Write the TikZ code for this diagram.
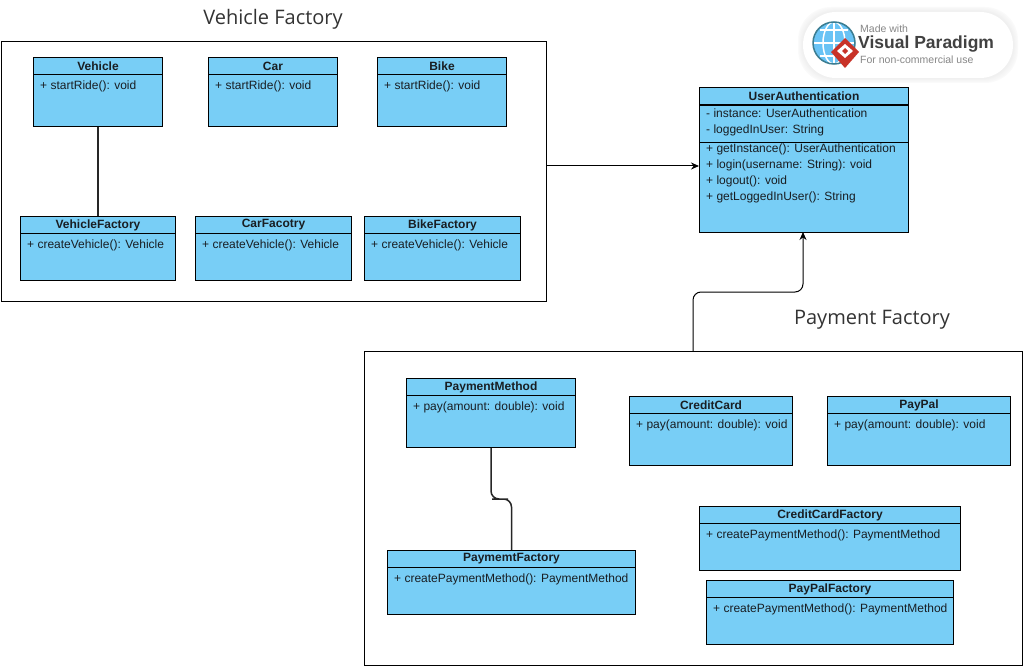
\documentclass[tikz,border=0pt]{standalone}
\usepackage{fontspec}
\setmainfont{Liberation Sans}
\newfontfamily\labelfont{Open Sans}
\usetikzlibrary{arrows.meta, positioning}
\definecolor{umlblue}{RGB}{120,206,246}
\definecolor{umltext}{RGB}{25,30,35}
\definecolor{badgegray}{RGB}{135,135,135}
\definecolor{badgedark}{RGB}{65,65,65}
\definecolor{badgered}{RGB}{200,50,40}
\definecolor{globeblue}{RGB}{105,195,245}
\definecolor{globeedge}{RGB}{60,125,145}
\tikzset{
    umlbody/.style={shape=rectangle, fill=umlblue, draw=black, line width=1pt, inner sep=0pt, anchor=north west},
    umlhead/.style={umlbody, anchor=north, minimum height=17pt, font=\fontsize{12}{14}\selectfont\bfseries, text=umltext},
    umlmember/.style={anchor=north west, inner sep=0pt, align=left, text=umltext, font=\fontsize{12}{16}\selectfont},
    framebox/.style={shape=rectangle, draw=black, line width=1pt, inner sep=0pt, anchor=north west},
    framelabel/.style={font=\labelfont\fontsize{20}{24}\selectfont, text=black!80},
    connector/.style={draw=black!85, line width=1.5pt},
    assoc/.style={draw=black, line width=1pt, -{Stealth[length=8pt, width=7pt]}, rounded corners=8pt}
}
\begin{document}
\begin{tikzpicture}[x=1pt, y=-1pt]
    \useasboundingbox (0, 0) rectangle (1023, 666);
    % Frames
    \node[framebox, minimum width=545pt, minimum height=260pt] (vehicleframe) at (0.5, 41) {};
    \node[framebox, minimum width=658pt, minimum height=314pt] (paymentframe) at (364, 351) {};
    \node[framelabel] (vehiclelabel) at (273, 19) {Vehicle Factory};
    \node[framelabel] (paymentlabel) at (872, 320) {Payment Factory};
    % Classes
    \foreach \name/\x/\y/\w/\h/\ctitle/\member in {
        vehicle/33/57/129/69/Vehicle/{+ startRide(): void},
        car/208/57/129/69/Car/{+ startRide(): void},
        bike/377/57/129/69/Bike/{+ startRide(): void},
        vehiclefactory/20/216/155/64/VehicleFactory/{+ createVehicle(): Vehicle},
        carfactory/195/216/156/64/CarFacotry/{+ createVehicle(): Vehicle},
        bikefactory/364/216/156/64/BikeFactory/{+ createVehicle(): Vehicle},
        paymentmethod/406/378/169/69/PaymentMethod/{+ pay(amount: double): void},
        creditcard/629/396/163/69/CreditCard/{+ pay(amount: double): void},
        paypal/827/396/183/69/PayPal/{+ pay(amount: double): void},
        creditfactory/699/506/261/64/CreditCardFactory/{+ createPaymentMethod(): PaymentMethod},
        paypalfactory/706/580/247/64/PayPalFactory/{+ createPaymentMethod(): PaymentMethod},
        paymentfactory/387/550/248/64/PaymemtFactory/{+ createPaymentMethod(): PaymentMethod}} {
        \node[umlbody, minimum width=\w pt, minimum height=\h pt] (\name) at (\x, \y) {};
        \node[umlhead, minimum width=\w pt] (\name head) at (\name.north) {\ctitle};
        \node[umlmember] (\name text) at ([xshift=7pt, yshift=-6pt]\name head.south west) {\member};
    }
    % User authentication
    \node[umlbody, minimum width=209pt, minimum height=145pt] (userauth) at (699, 87) {};
    \node[umlhead, minimum width=209pt] (userauth head) at (userauth.north) {UserAuthentication};
    \node[umlbody, minimum width=209pt, minimum height=37pt] (userauth attrs) at (userauth head.south west) {};
    \node[umlmember] (userauth attrtext) at ([xshift=7pt, yshift=-4pt]userauth attrs.north west) {- instance: UserAuthentication\\- loggedInUser: String};
    \node[umlmember] (userauth text) at ([xshift=7pt, yshift=-1pt]userauth attrs.south west) {+ getInstance(): UserAuthentication\\+ login(username: String): void\\+ logout(): void\\+ getLoggedInUser(): String};
    % Connectors
    \coordinate (userauthin) at (699, 166);
    \coordinate (userauthup) at (803, 232);
    \coordinate (paymentout) at (693, 351);
    \coordinate (paymentbend) at (748, 292);
    \coordinate (methodbend) at (500, 499);
    \draw[connector] (vehicle) -- (vehiclefactory);
    \draw[connector, rounded corners=8pt] (paymentmethod.south) |- (methodbend) -| (paymentfactory.north);
    \draw[assoc] (vehicleframe.east |- userauthin) -- (userauthin);
    \draw[assoc] (paymentout) |- (paymentbend) -| (userauthup);
    % Badge
    \foreach \grow/\shade in {5/2, 4/3, 3/4, 2/5, 1/6} {
        \fill[black!\shade, rounded corners=33pt] (803-\grow, 12-\grow) rectangle (1013+\grow, 78+\grow);
    }
    \fill[white, rounded corners=33pt] (803, 12) rectangle (1013, 78);
    \fill[globeblue] (834, 43) circle (21);
    \draw[white, line width=1.5pt] (813, 43) -- (855, 43) (820, 30) -- (848, 30) (820, 56) -- (848, 56) (834, 22) -- (834, 64);
    \draw[white, line width=1.5pt] (834, 43) ellipse (11 and 21);
    \draw[globeedge, line width=1.5pt] (834, 43) circle (21);
    \fill[badgered] (845, 38) -- (859, 52) -- (845, 68) -- (831, 52) -- cycle;
    \fill[white] (845, 44) -- (853, 51) -- (845, 58) -- (837, 51) -- cycle;
    \fill[badgered] (845, 48) -- (848, 51) -- (845, 54) -- (842, 51) -- cycle;
    \node[anchor=west, inner sep=0pt, text=badgegray, font=\fontsize{10.5}{12}\selectfont] (badgemade) at (860, 29) {Made with};
    \node[anchor=west, inner sep=0pt, text=badgedark, font=\fontsize{17.5}{20}\selectfont\bfseries] (badgename) at (858, 44) {Visual Paradigm};
    \node[anchor=west, inner sep=0pt, text=badgegray, font=\fontsize{10.5}{12}\selectfont] (badgeuse) at (860, 60) {For non-commercial use};
\end{tikzpicture}
\end{document}
